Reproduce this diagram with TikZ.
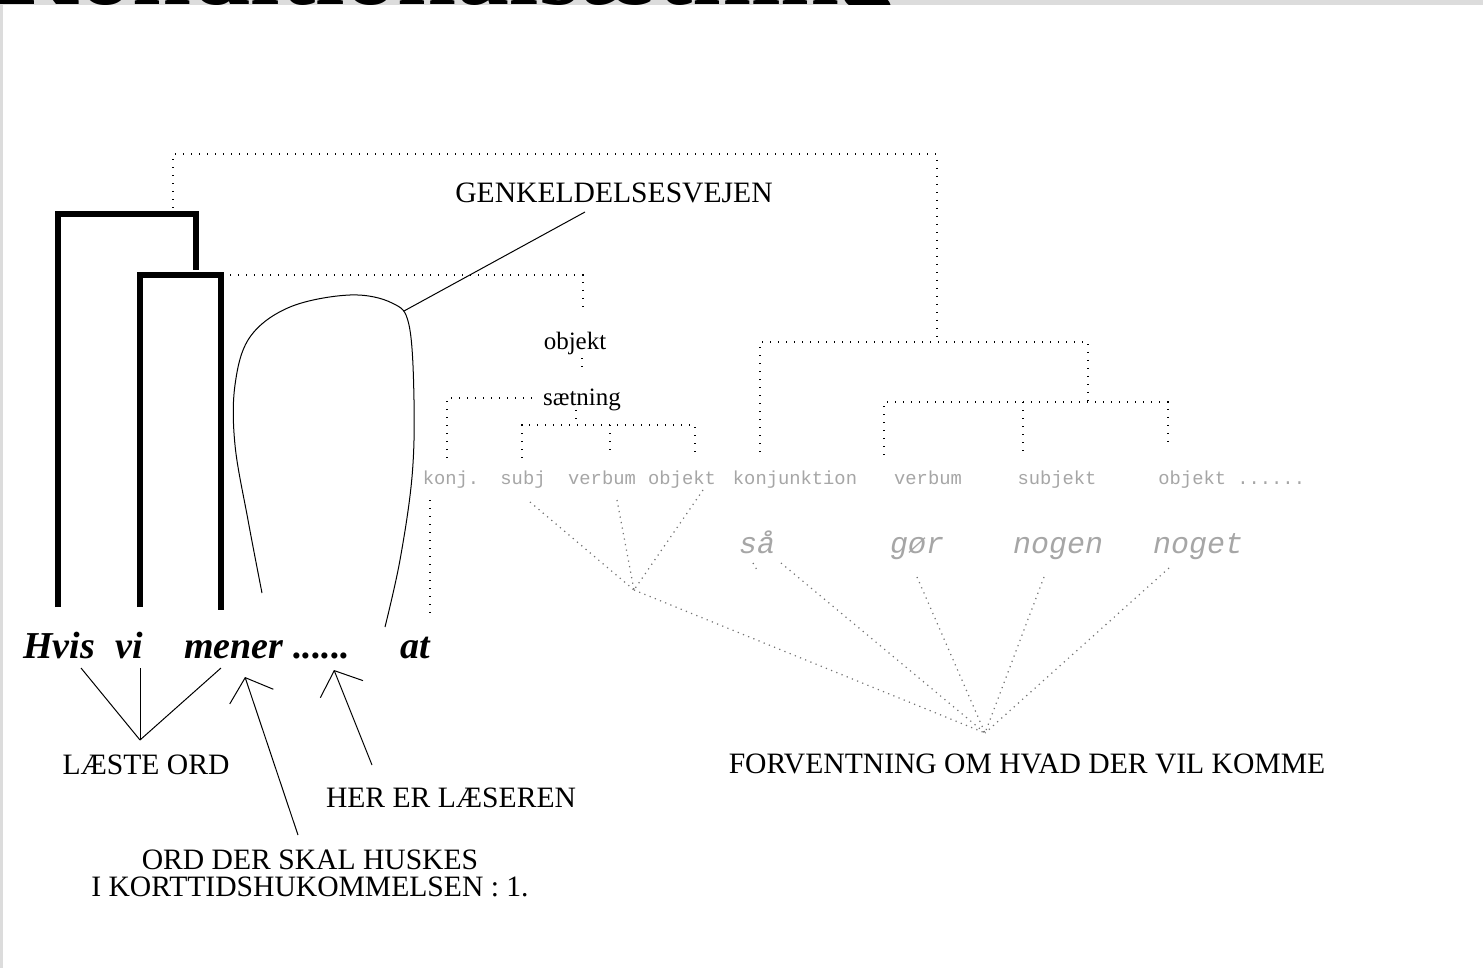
\documentclass[tikz,border=0pt]{standalone}
\usepackage{fontspec}
\setmainfont{Liberation Serif}
\newfontfamily\graymono{Liberation Mono}
\usetikzlibrary{arrows.meta}
\definecolor{bandgray}{HTML}{DCDCDC}
\begin{document}
\begin{tikzpicture}[x=0.5pt,y=-0.5pt,
  thickbar/.style={line width=2.8pt, line join=miter},
  dotline/.style={line width=0.6pt, dash pattern=on 0.6pt off 3.4pt},
  graydot/.style={line width=0.6pt, black!55, dash pattern=on 0.6pt off 2.2pt},
  fine/.style={line width=0.5pt},
  barb/.style={-{Straight Barb[length=10pt,width=23pt]}, line width=0.5pt},
  lbl/.style={font=\fontsize{14.8}{13.5}\selectfont, inner sep=0pt, anchor=base},
  smalllbl/.style={font=\fontsize{12.5}{15}\selectfont, inner sep=0pt, anchor=base},
  word/.style={font=\fontsize{19}{22}\selectfont\bfseries\itshape, inner sep=0pt, anchor=base west},
  glbl/.style={font=\graymono\fontsize{9.4}{11}\selectfont, text=black!35, inner sep=0pt, anchor=base},
  gword/.style={font=\graymono\itshape\fontsize{15}{18}\selectfont, text=black!35, inner sep=0pt, anchor=base}
]
\fill[white] (0,0) rectangle (1483,968);
\useasboundingbox (0,0) rectangle (1483,968);
\fill[bandgray] (0,0) rectangle (1483,5);
\fill[bandgray] (0,0) rectangle (3,968);
\begin{scope}
  \clip (0,0) rectangle (1483,5);
  \node[anchor=base west, inner sep=0pt, font=\fontsize{53}{60}\selectfont\bfseries] (title) at (-3,5) {Konditionalsætning};
\end{scope}

% words of the sentence
\node[word] (hvis) at (23,658) {Hvis};
\node[word] (vi) at (115,658) {vi};
\node[word] (mener) at (184,658) {mener};
\node[word] (dots) at (293,658) {......};
\node[word] (at) at (400,658) {at};

% labels
\node[lbl] (genk) at (614,203) {GENKELDELSESVEJEN};
\node[lbl] (laeste) at (146,774) {LÆSTE ORD};
\node[lbl] (her) at (451,807) {HER ER LÆSEREN};
\node[lbl, align=center] (ord) at (310,896) {ORD DER SKAL HUSKES\\I KORTTIDSHUKOMMELSEN : 1.};
\node[lbl] (forv) at (1027,773) {FORVENTNING OM HVAD DER VIL KOMME};
\node[smalllbl] (objekt) at (575,350) {objekt};
\node[smalllbl] (saetning) at (582,405) {sætning};

% grey labels
\node[glbl] (konj) at (451,484) {konj.};
\node[glbl] (subj) at (523,484) {subj};
\node[glbl] (verb1) at (602,484) {verbum};
\node[glbl] (obj1) at (682,484) {objekt};
\node[glbl] (konjunktion) at (795,484) {konjunktion};
\node[glbl] (verb2) at (928,484) {verbum};
\node[glbl] (subj2) at (1057,484) {subjekt};
\node[glbl, anchor=base west] (obj2) at (1158,484) {objekt ......};
\node[gword] (saa) at (757,553) {så};
\node[gword] (goer) at (917,553) {gør};
\node[gword] (nogen) at (1058,553) {nogen};
\node[gword] (noget) at (1198,553) {noget};

% thick brackets
\draw[thickbar] (58,607) -- (58,214) -- (196,214) -- (196,270);
\draw[thickbar] (140,607) -- (140,275) -- (221,275) -- (221,610);

% dotted tree lines
\draw[dotline] (173,208) -- (173,154) -- (937,154) -- (937,342);
\draw[dotline] (760,452) -- (760,342) -- (1088,342) -- (1088,402);
\draw[dotline] (884,455) -- (884,402) -- (1168,402) -- (1168,448);
\draw[dotline] (1023,402) -- (1023,455);
\draw[dotline] (230,275) -- (583,275) -- (583,312);
\draw[dotline] (582,358) -- (582,373);
\draw[dotline] (447,458) -- (447,398) -- (538,398);
\draw[dotline] (576,410) -- (576,425);
\draw[dotline] (522,458) -- (522,425) -- (695,425) -- (695,455);
\draw[dotline] (610,425) -- (610,455);
\draw[dotline] (430,500) -- (430,613);

% expectation lines
\coordinate (v) at (634,590);
\coordinate (f) at (985,733);
\draw[graydot] (530,502) -- (v);
\draw[graydot] (617,500) -- (v);
\draw[graydot] (703,490) -- (v);
\draw[graydot] (v) -- (f);
\draw[graydot] (753,563) -- (757,570);
\draw[graydot] (781,563) -- (f);
\draw[graydot] (917,577) -- (f);
\draw[graydot] (1044,577) -- (f);
\draw[graydot] (1169,568) -- (f);

% read words
\coordinate (l) at (140,740);
\draw[fine] (81,668) -- (l);
\draw[fine] (140,668) -- (l);
\draw[fine] (221,668) -- (l);

% arrows
\draw[barb] (298,835) -- (245,677);
\draw[barb] (372,765) -- (334,670);

% retrieval route
\draw[fine] (585,212) -- (404,311);
\draw[fine] plot[smooth, tension=0.6] coordinates {(262,593) (248,520) (235,445) (235,385) (250,337) (290,307) (350,295) (392,303) (409,325) (414,400) (412,477) (400,560) (385,627)};
\end{tikzpicture}
\end{document}
